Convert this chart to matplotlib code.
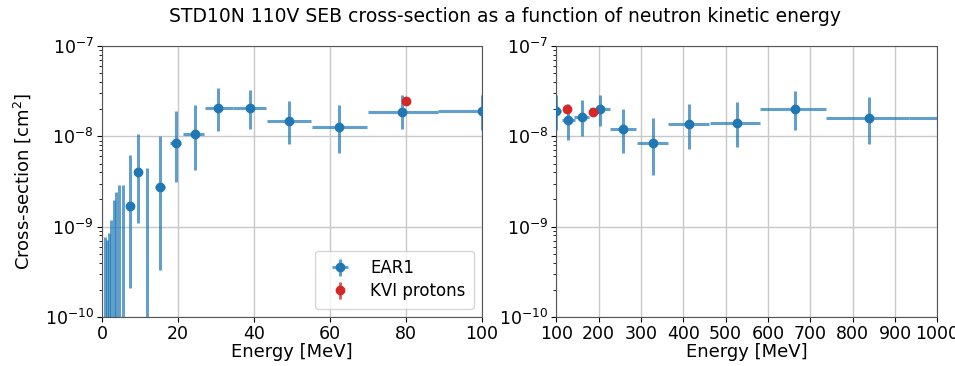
import numpy as np
import matplotlib
matplotlib.use("Agg")
import matplotlib.pyplot as plt

# EAR1 neutron measurements: bin centre, bin edges, cross-section and its bounds [cm^2]
ear1_energy = [0.9, 1.3, 1.8, 2.5, 3.1, 3.8, 4.6, 5.4, 7.4, 9.4, 11.8, 15.3, 19.4, 24.5,
               30.6, 38.9, 49.3, 62.4, 79.0, 100, 128, 160, 204, 258, 328, 413, 526,
               664, 839, 1090]
ear1_e_low = [0.9, 1.3, 1.8, 2.5, 3.1, 3.8, 4.6, 5.4, 7.0, 9.0, 11.8, 14.0, 17.9, 21.4,
              27.1, 34.4, 43.3, 55.2, 70.1, 88.5, 113, 142, 180, 227, 290, 365, 463,
              581, 737, 934]
ear1_e_high = [0.9, 1.3, 1.8, 2.5, 3.1, 3.8, 4.6, 5.4, 7.8, 9.8, 11.8, 16.6, 20.9, 26.8,
               34.4, 43.2, 55.0, 69.7, 88.5, 112, 144, 177, 227, 288, 365, 461, 581,
               737, 934, 1250]
ear1_xs = [0, 0, 0, 0, 0, 0, 0, 0, 1.7e-9, 4.0e-9, 0, 2.76e-9, 8.5e-9, 1.05e-8,
           2.04e-8, 2.04e-8, 1.48e-8, 1.26e-8, 1.86e-8, 1.92e-8, 1.5e-8, 1.66e-8,
           2.03e-8, 1.2e-8, 8.4e-9, 1.36e-8, 1.4e-8, 2.0e-8, 1.58e-8, 1.58e-8]
ear1_xs_low = [0, 0, 0, 0, 0, 0, 0, 0, 2.1e-10, 1.1e-9, 0, 3.3e-10, 3.1e-9, 4.2e-9,
               1.15e-8, 1.2e-8, 8.2e-9, 6.6e-9, 1.2e-8, 1.17e-8, 9.1e-9, 1.0e-8,
               1.3e-8, 6.5e-9, 3.7e-9, 7.2e-9, 7.6e-9, 1.17e-8, 8.3e-9, 1.0e-8]
ear1_xs_high = [7.7e-10, 7.2e-10, 8.5e-10, 1.2e-9, 1.96e-9, 2.4e-9, 2.9e-9, 2.9e-9,
                6.3e-9, 1.05e-8, 4.5e-9, 1.0e-8, 1.9e-8, 2.2e-8, 3.4e-8, 3.3e-8,
                2.47e-8, 2.2e-8, 2.9e-8, 2.9e-8, 2.3e-8, 2.5e-8, 2.9e-8, 2.0e-8,
                1.6e-8, 2.3e-8, 2.4e-8, 3.2e-8, 2.7e-8, 2.5e-8]

# KVI proton measurements
kvi_energy = [80, 124.5, 186]
kvi_xs = [2.48e-8, 2.0e-8, 1.86e-8]
kvi_err = [1.5e-9, 1.5e-9, 1.5e-9]

title = "STD10N 110V SEB cross-section as a function of neutron kinetic energy"
xlims = [(0, 100), (100, 1000)]

plt.rcParams['font.family'] = ['DejaVu Sans']
plt.rcParams['font.size'] = 12

fig = plt.figure(figsize=(9.55, 3.66), dpi=100)
ax_left = fig.add_axes([0.1068, 0.134, 0.398, 0.740])
ax_right = fig.add_axes([0.5825, 0.134, 0.399, 0.740])

e = np.array(ear1_energy, dtype=float)
xs = np.array(ear1_xs, dtype=float)
xerr = [e - np.array(ear1_e_low), np.array(ear1_e_high) - e]
yerr = [xs - np.array(ear1_xs_low), np.array(ear1_xs_high) - xs]

for ax, lim in zip([ax_left, ax_right], xlims):
    ax.set_yscale('log')
    ax.errorbar(e, xs, xerr=xerr, yerr=yerr, fmt='o', color='#1f77b4',
                ecolor=(0.12, 0.47, 0.71, 0.7), elinewidth=2.2, markersize=6,
                label='EAR1', zorder=3)
    ax.errorbar(kvi_energy, kvi_xs, yerr=kvi_err, fmt='o', color='#d62728',
                ecolor=(0.84, 0.15, 0.16, 0.8), elinewidth=2, markersize=6,
                label='KVI protons', zorder=4)
    ax.set_xlim(*lim)
    ax.set_ylim(1e-10, 1e-7)
    ax.grid(True, which='major', color='#c8c8c8', linewidth=1)
    ax.set_axisbelow(True)
    ax.set_xlabel('Energy [MeV]', fontsize=13, labelpad=0)
    ax.tick_params(axis='both', which='major', labelsize=12.5, pad=2.5)
    for s in ax.spines.values():
        s.set_color('#555555')

ax_right.set_xticks(np.arange(100, 1001, 100))
ax_left.set_ylabel('Cross-section [cm$^2$]', fontsize=13, labelpad=8)
ax_left.legend(loc='lower right', borderpad=0.5, handletextpad=0.8,
               labelspacing=0.3, fontsize=12)

fig.suptitle(title, x=0.529, y=0.98, fontsize=13.5)

fig.savefig('out.png', dpi=100)
